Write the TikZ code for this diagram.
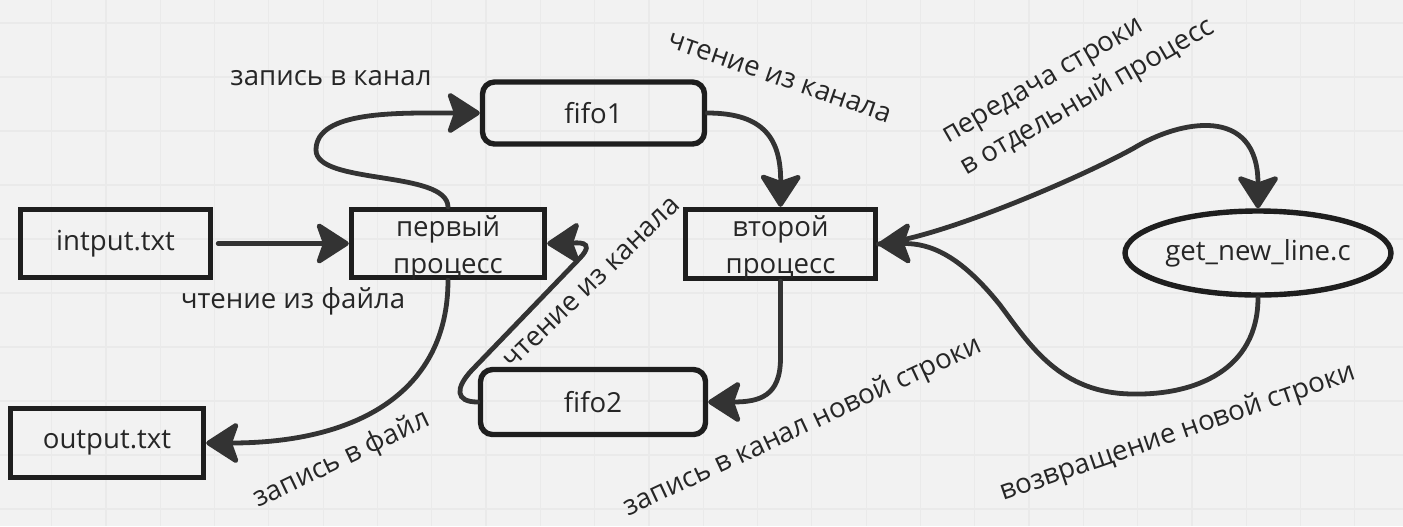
\documentclass[tikz,border=0pt]{standalone}
\usepackage{fontspec}
\setmainfont{Open Sans}
\usetikzlibrary{arrows.meta,shapes.geometric,calc}
\definecolor{bg}{HTML}{F2F2F2}
\definecolor{gridc}{HTML}{EAEAEA}
\definecolor{boxc}{HTML}{1E1E1E}
\definecolor{arrc}{HTML}{333333}
\definecolor{txtc}{HTML}{262626}
\newcommand\lbl{\fontsize{13.8}{18.5}\selectfont}
\tikzset{
 box/.style={draw=boxc, line width=2.7pt, text=txtc, font=\lbl, inner sep=0pt, align=center},
 rect/.style={box, rectangle},
 pipe/.style={box, rectangle, rounded corners=6pt},
 oval/.style={box, ellipse},
 conn/.style={draw=arrc, line width=2.4pt, line cap=round, -{Stealth[length=18pt,width=23pt,inset=4pt,round]}},
 lab/.style={text=txtc, font=\lbl, inner sep=0pt},
 inlab/.style={lab, align=center, yshift=-2pt},
 gridline/.style={draw=gridc, line width=0.6pt},
}
\begin{document}
\begin{tikzpicture}[x=0.5pt,y=-0.5pt]
\fill[bg] (0,0) rectangle (1403,526);
\useasboundingbox (0,0) rectangle (1403,526);
\foreach \k in {1,...,25} { \draw[gridline] ({-2.7+54.3*\k},0) -- ({-2.7+54.3*\k},526); }
\foreach \k in {0,...,9} { \draw[gridline] (0,{23+54*\k}) -- (1403,{23+54*\k}); }

\node[rect, minimum width=95pt, minimum height=34pt] (in) at (115.5,243.5) {intput.txt};
\node[rect, minimum width=96.5pt, minimum height=34pt,
      label={[inlab, name=p1t]center:первый\\процесс}] (p1) at (448,243.5) {};
\node[rect, minimum width=95pt, minimum height=34.5pt,
      label={[inlab, name=p2t]center:второй\\процесс}] (p2) at (780.5,244) {};
\node[pipe, minimum width=111pt, minimum height=31pt] (f1) at (593.5,113) {fifo1};
\node[pipe, minimum width=112.5pt, minimum height=32.5pt] (f2) at (593,402) {fifo2};
\node[rect, minimum width=96.5pt, minimum height=34.5pt] (out) at (107,443) {output.txt};
\node[oval, minimum width=133pt, minimum height=42pt] (gnl) at (1258,253) {get\_new\_line.c};

\draw[conn] ([xshift=2.5pt]in.east) -- (p1.west);
\draw[conn] (p1.north) .. controls (447,170) and (316,185) .. (316,150) .. controls (316,110) and (400,113) .. (f1.west);
\draw[conn] (f1.east) .. controls (765,113) and (781,140) .. (p2.north);
\draw[conn] (p1.south) .. controls (448,390) and (360,443) .. (out.east);
\draw[conn] (f2.west) .. controls (455,402) and (455,388) .. (472,370) -- (580,258) .. controls (597,240) and (575,243) .. (p1.east);
\draw[conn] (p2.south) -- (780.5,358) .. controls (780.5,396) and (760,402) .. (f2.east);
\draw[conn] (p2.east) .. controls (940,238) and (1080,178) .. (1134,148) .. controls (1180,120) and (1258,105) .. (gnl.north);
\draw[conn] (gnl.south) .. controls (1258,370) and (1195,395) .. (1134,394) .. controls (1060,394) and (1030,345) .. (1000,305) .. controls (960,255) and (930,243) .. (p2.east);

\node[lab] (l1) at (331,78) {запись в канал};
\node[lab, rotate=-19] (l2) at (780,78) {чтение из канала};
\node[lab, rotate=30, align=left] (l3) at (1080,84) {передача строки\\в отдельный процесс};
\node[lab] (l4) at (293,301) {чтение из файла};
\node[lab, rotate=25.6] (l5) at (342,460) {запись в файл};
\node[lab, rotate=44] (l6) at (592,283) {чтение из канала};
\node[lab, rotate=25] (l7) at (803,427) {запись в канал новой строки};
\node[lab, rotate=19] (l8) at (1178,433) {возвращение новой строки};
\end{tikzpicture}
\end{document}
